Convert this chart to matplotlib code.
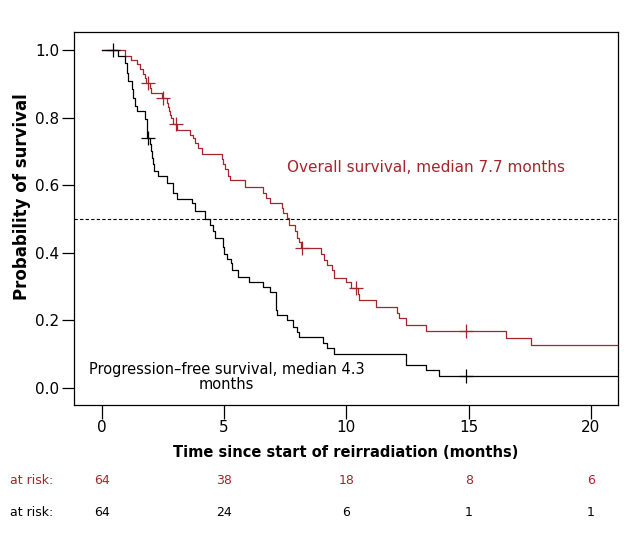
import numpy as np
import matplotlib
matplotlib.use('Agg')
import matplotlib.pyplot as plt
import matplotlib.transforms as mtransforms

RED = '#a3262c'

# Overall survival: step times (months) and survival after each drop
os_times = [0, 0.94, 1.18, 1.43, 1.55, 1.67, 1.76, 1.80, 1.96, 2.00, 2.45, 2.65, 2.69,
            2.73, 2.78, 2.82, 2.90, 3.06, 3.59, 3.71, 3.80, 3.92, 4.08, 4.90, 4.94,
            5.02, 5.14, 5.22, 5.84, 6.57, 6.73, 6.86, 7.35, 7.39, 7.55, 7.67, 7.88,
            7.96, 8.08, 8.16, 8.98, 9.10, 9.22, 9.39, 9.51, 10.0, 10.2, 10.49, 10.53,
            11.22, 12.08, 12.16, 12.45, 13.27, 16.53, 17.55]
os_surv = [1.0, 0.982, 0.971, 0.959, 0.944, 0.929, 0.917, 0.903, 0.888, 0.873, 0.858,
           0.844, 0.832, 0.820, 0.808, 0.799, 0.782, 0.764, 0.749, 0.740, 0.726, 0.711,
           0.693, 0.678, 0.664, 0.649, 0.628, 0.614, 0.596, 0.578, 0.563, 0.546, 0.534,
           0.519, 0.504, 0.481, 0.466, 0.445, 0.431, 0.413, 0.398, 0.378, 0.363, 0.348,
           0.327, 0.313, 0.295, 0.277, 0.260, 0.239, 0.221, 0.206, 0.186, 0.168, 0.147,
           0.127]
os_censor = [1.88, 2.49, 3.02, 8.2, 10.41, 14.9]

# Progression-free survival
pfs_times = [0, 0.65, 0.94, 1.02, 1.06, 1.22, 1.27, 1.35, 1.43, 1.76, 1.84, 1.96, 2.00,
             2.04, 2.08, 2.12, 2.29, 2.65, 2.90, 3.06, 3.67, 3.80, 4.20, 4.41, 4.53,
             4.61, 4.94, 4.98, 5.10, 5.27, 5.31, 5.55, 6.00, 6.57, 6.86, 7.10, 7.14,
             7.18, 7.55, 7.80, 7.96, 8.08, 9.06, 9.22, 9.51, 12.45, 13.27, 13.80]
pfs_surv = [1.0, 0.982, 0.962, 0.932, 0.909, 0.885, 0.858, 0.835, 0.820, 0.796, 0.740,
            0.723, 0.702, 0.681, 0.664, 0.643, 0.628, 0.608, 0.578, 0.560, 0.546, 0.525,
            0.501, 0.481, 0.466, 0.445, 0.416, 0.398, 0.381, 0.369, 0.348, 0.330, 0.313,
            0.298, 0.283, 0.251, 0.230, 0.215, 0.201, 0.180, 0.165, 0.150, 0.133, 0.118,
            0.100, 0.068, 0.053, 0.035]
pfs_censor = [0.45, 1.88, 14.9]

risk_times = [0, 5, 10, 15, 20]
os_at_risk = [64, 38, 18, 8, 6]
pfs_at_risk = [64, 24, 6, 1, 1]

T_END = 21.1


def step_value(times, surv, t):
    idx = np.searchsorted(times, t, side='right') - 1
    return surv[idx]


fig = plt.figure(figsize=(6.26, 5.41), dpi=100)
ax = fig.add_axes([0.119, 0.2514, 0.868, 0.69])

# survival curves
ax.step(os_times + [T_END], os_surv + [os_surv[-1]], where='post', color=RED, lw=0.9)
ax.step(pfs_times + [T_END], pfs_surv + [pfs_surv[-1]], where='post', color='black', lw=0.9)

# censoring marks
ax.plot(os_censor, [step_value(os_times, os_surv, t) for t in os_censor], '+',
        color=RED, ms=10, mew=0.9)
ax.plot(pfs_censor, [step_value(pfs_times, pfs_surv, t) for t in pfs_censor], '+',
        color='black', ms=10, mew=0.9)

ax.axhline(0.5, color='black', lw=0.8, ls=(0, (3, 2)))

ax.text(7.55, 0.652, 'Overall survival, median 7.7 months', color=RED,
        fontsize=11, va='center', ha='left')
ax.text(5.1, 0.032, 'Progression\u2013free survival, median 4.3\nmonths', color='black',
        fontsize=10.5, va='center', ha='center', linespacing=1.0)

ax.set_xlim(-1.12, T_END)
ax.set_ylim(-0.05, 1.054)
ax.set_xticks(risk_times)
ax.set_yticks([0.0, 0.2, 0.4, 0.6, 0.8, 1.0])
ax.set_yticklabels(['0.0', '0.2', '0.4', '0.6', '0.8', '1.0'])
ax.tick_params(axis='both', direction='out', labelsize=11, width=0.9)
ax.tick_params(axis='x', length=10, pad=1)
ax.tick_params(axis='y', length=9, pad=2)
for sp in ax.spines.values():
    sp.set_linewidth(0.9)

ax.set_xlabel('Time since start of reirradiation (months)', fontsize=10.5,
              fontweight='bold', va='center')
ax.xaxis.set_label_coords(0.5, -0.126)
ax.set_ylabel('Probability of survival', fontsize=12, fontweight='bold', va='center')
ax.yaxis.set_label_coords(-0.0966, 0.557)

# numbers at risk
trans = mtransforms.blended_transform_factory(ax.transData, fig.transFigure)
y_os = 1 - 481 / 541
y_pfs = 1 - 513 / 541
fig.text(10 / 626, y_os, 'at risk:', color=RED, fontsize=9, va='center')
fig.text(10 / 626, y_pfs, 'at risk:', color='black', fontsize=9, va='center')
for t, n1, n2 in zip(risk_times, os_at_risk, pfs_at_risk):
    ax.text(t, y_os, str(n1), color=RED, fontsize=9, ha='center', va='center',
            transform=trans, clip_on=False)
    ax.text(t, y_pfs, str(n2), color='black', fontsize=9, ha='center', va='center',
            transform=trans, clip_on=False)

fig.savefig('out.png', dpi=100)
